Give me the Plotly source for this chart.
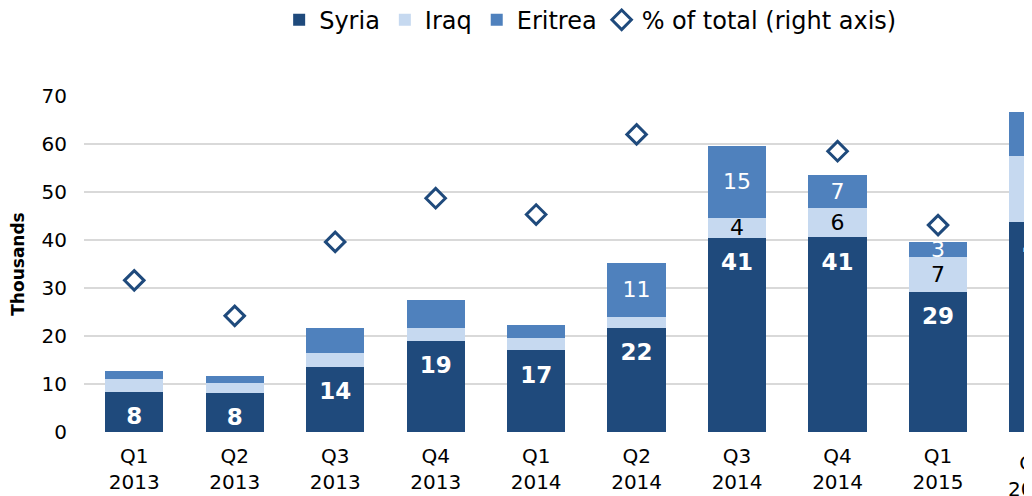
import plotly.graph_objects as go

quarters = ["Q1<br>2013", "Q2<br>2013", "Q3<br>2013", "Q4<br>2013",
            "Q1<br>2014", "Q2<br>2014", "Q3<br>2014", "Q4<br>2014",
            "Q1<br>2015", "Q2<br>2015"]
syria = [8.4, 8.2, 13.6, 19.0, 17.1, 21.7, 40.5, 40.6, 29.2, 43.7]
iraq = [2.6, 2.1, 2.9, 2.6, 2.5, 2.3, 4.1, 6.0, 7.3, 13.7]
eritrea = [1.7, 1.4, 5.1, 5.9, 2.7, 11.3, 15.0, 6.9, 3.1, 9.2]
pct_total = [31.6, 24.2, 39.6, 48.7, 45.3, 62.0, 73.7, 58.5, 43.1, 63.6]

syria_labels = ["8", "8", "14", "19", "17", "22", "41", "41", "29", "44"]
iraq_labels = ["", "", "", "", "", "", "4", "6", "7", "14"]
eritrea_labels = ["", "", "", "", "", "11", "15", "7", "3", ""]

C_SYRIA = "#1f4a7c"
C_IRAQ = "#c6d9f0"
C_ERITREA = "#4f81bd"
FONT = "DejaVu Sans"

x_range = [-0.5, 8.935]
SYRIA_LABEL_DROP = 5.6  # label centre sits below the top of the Syria segment (Excel "inside end")

fig = go.Figure()
fig.add_trace(go.Bar(
    x=quarters, y=syria, name="Syria", marker=dict(color=C_SYRIA, line=dict(width=0))))
fig.add_trace(go.Bar(
    x=quarters, y=iraq, name="Iraq", marker=dict(color=C_IRAQ, line=dict(width=0)),
    text=iraq_labels, textposition="inside", insidetextanchor="middle",
    textfont=dict(family=FONT, size=22, color="black"),
    constraintext="none", textangle=0))
fig.add_trace(go.Bar(
    x=quarters, y=eritrea, name="Eritrea", marker=dict(color=C_ERITREA, line=dict(width=0)),
    text=eritrea_labels, textposition="inside", insidetextanchor="middle",
    textfont=dict(family=FONT, size=22, color="white"),
    constraintext="none", textangle=0))
fig.add_trace(go.Scatter(
    x=quarters, y=[v - SYRIA_LABEL_DROP for v in syria], mode="text",
    text=syria_labels, textposition="middle center", showlegend=False,
    hoverinfo="skip",
    textfont=dict(family=FONT, size=23, color="white", weight="bold")))
fig.add_trace(go.Scatter(
    x=quarters, y=pct_total, name="% of total (right axis)", mode="markers",
    yaxis="y2", cliponaxis=False,
    marker=dict(symbol="diamond", size=15, color="white",
                line=dict(color=C_SYRIA, width=3))))

# label for the last (partly cropped) category, placed by its category index
last_idx = len(quarters) - 1
last_frac = (last_idx - x_range[0]) / (x_range[1] - x_range[0])
fig.add_annotation(x=last_frac, xref="paper", xanchor="center", xshift=-5,
                   y=0, yref="paper", yanchor="top", yshift=-17,
                   text=quarters[last_idx], showarrow=False,
                   font=dict(family=FONT, size=20, color="black"))

fig.update_layout(
    width=1024, height=488,
    margin=dict(l=76, r=0, t=88, b=64),
    barmode="stack", bargap=0.42,
    plot_bgcolor="white", paper_bgcolor="white",
    font=dict(family=FONT, size=20, color="black"),
    showlegend=True,
    legend=dict(orientation="h", xref="container", x=0.569, xanchor="center",
                yref="container", y=0.975, yanchor="middle",
                font=dict(family=FONT, size=24, color="black"),
                traceorder="normal", itemwidth=30),
    xaxis=dict(type="category", range=x_range, showgrid=False, showline=False,
               ticks="", ticklabelstandoff=10, tickfont=dict(family=FONT, size=20)),
    yaxis=dict(range=[0, 70], dtick=10, showgrid=True, gridcolor="#d9d9d9",
               gridwidth=2, zeroline=False, showline=False, ticks="",
               ticklabelstandoff=16, tickfont=dict(family=FONT, size=20),
               title=dict(text="<b>Thousands</b>", standoff=20,
                          font=dict(family=FONT, size=17))),
    yaxis2=dict(overlaying="y", side="right", range=[0, 70], showgrid=False,
                showticklabels=False, zeroline=False, showline=False, ticks=""),
)

fig.write_html("out.html")
